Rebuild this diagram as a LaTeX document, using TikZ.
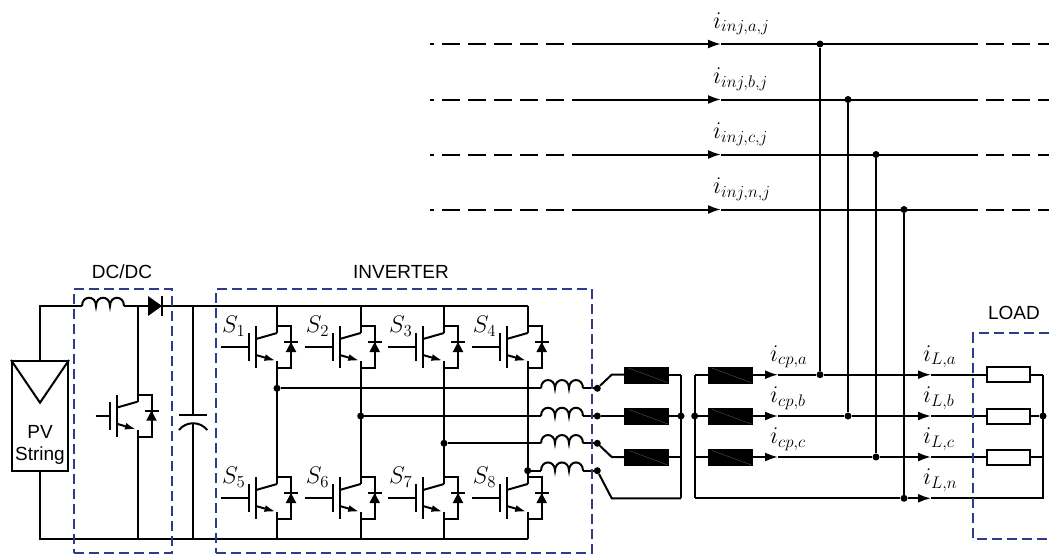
\RequirePackage{fix-cm}
\documentclass[tikz,border=0pt]{standalone}
\usepackage{fontspec}
\usepackage{tikz}
\usetikzlibrary{arrows.meta}
\newfontfamily\labelfont{Liberation Sans}
\definecolor{frameblue}{RGB}{46,58,140}
\tikzset{
	wire/.style={line width=2pt},
	dot/.style={circle,fill=black,inner sep=0pt,minimum size=7pt},
	dashwire/.style={wire,dash pattern=on 18pt off 8pt},
	flowtip/.style={wire,-{Latex[length=13pt,width=9pt]}},
	frame/.style={draw=frameblue,line width=2pt,dash pattern=on 10pt off 5pt},
	filterbox/.style={draw=black,fill=black,minimum width=44pt,minimum height=16pt,inner sep=0pt},
	loadres/.style={draw=black,line width=2pt,fill=white,minimum width=43pt,minimum height=15pt,inner sep=0pt},
	pvbox/.style={draw=black,line width=2pt,minimum width=56pt,minimum height=110pt,inner sep=0pt},
	mathlabel/.style={anchor=base west,inner sep=0pt,font=\fontsize{24}{28}\selectfont},
	textlabel/.style={inner sep=0pt,align=center,font=\labelfont\fontsize{19}{22}\selectfont},
	pics/igbt/.style={code={
		\coordinate (-c) at (0,-14);
		\coordinate (-e) at (0,14);
		\draw[wire] (#1,0) -- (-27.7,0);
		\draw[wire] (-27.7,-14) -- (-27.7,14);
		\draw[wire] (-21,-21) -- (-21,21);
		\draw[wire] (-21,-8) -- (0,-14);
		\draw[flowtip,-{Latex[length=11pt,width=7pt]}] (-21,8) -- (-1.5,13.6);
		\draw[wire] (-c) -- (0,-21) -- (14,-21) -- (14,21) -- (0,21) -- (-e);
		\fill (8.7,5) -- (19.3,5) -- (14,-5) -- cycle;
		\draw[wire] (7,-5) -- (21,-5);
	}},
	pics/coil/.style={code={
		\draw[wire] (0,0) .. controls (0,-11) and (14,-11) .. (14,0)
			.. controls (14,-11) and (28,-11) .. (28,0)
			.. controls (28,-11) and (42,-11) .. (42,0);
	}}
}
\begin{document}
\begin{tikzpicture}[x=1pt,y=-1pt]
	\useasboundingbox (0,0) rectangle (1049,554);
	\foreach \ph/\y/\x in {a/44/820,b/99.5/848,c/154.5/876,n/209.5/904}{
		\coordinate (gl\ph) at (430,\y);
		\coordinate (gs\ph) at (585,\y);
		\coordinate (gt\ph) at (721,\y);
		\coordinate (ge\ph) at (978,\y);
		\coordinate (gr\ph) at (1049,\y);
		\node[dot] (gj\ph) at (\x,\y) {};
		\draw[dashwire,dash phase=5pt] (gs\ph) -- (gl\ph);
		\draw[flowtip] (gs\ph) -- (gt\ph);
		\draw[wire] (gt\ph) -- (ge\ph);
		\draw[dashwire,dash phase=18pt] (ge\ph) -- (gr\ph);
		\node[mathlabel] (ig\ph) at (713,\y-16) {$i_{inj,\ph,j}$};
	}

	\node[pvbox] (pv) at (40,416) {};
	\coordinate (pvtip) at (40,402.7);
	\draw[wire] (pv.north west) -- (pvtip) -- (pv.north east);
	\node[textlabel] (pvtext) at (40,444.5) {PV\\String};
	\coordinate (nw) at (40,306);
	\coordinate (sw) at (40,539.3);
	\coordinate (coilin) at (82,306);
	\coordinate (coilout) at (124,306);
	\coordinate (dioin) at (148,306);
	\coordinate (dioout) at (162,306);
	\coordinate (railend) at (527.7,306);
	\coordinate (botend) at (527.7,539.3);
	\draw[wire] (pv.north) -- (nw) -- (coilin);
	\pic at (coilin) {coil};
	\draw[wire] (coilout) -- (dioin);
	\fill (148,296) -- (dioout) -- (148,316) -- cycle;
	\draw[wire] (162,296) -- (162,316);
	\draw[wire] (dioout) -- (railend);
	\draw[wire] (pv.south) -- (sw) -- (botend);

	\pic (sw0) at (137.5,415.7) {igbt=-42};
	\coordinate (swtop) at (137.5,306);
	\coordinate (swbot) at (137.5,539.3);
	\draw[wire] (swtop) -- (sw0-c);
	\draw[wire] (sw0-e) -- (swbot);

	\coordinate (captop) at (193.3,306);
	\coordinate (capup) at (193.3,415.3);
	\coordinate (caplow) at (193.3,423.5);
	\coordinate (capbot) at (193.3,539.3);
	\draw[wire] (captop) -- (capup);
	\draw[wire] (179,415.3) -- (207.3,415.3);
	\draw[wire] (179,430) .. controls (186,421) and (200,421) .. (207.3,430);
	\draw[wire] (caplow) -- (capbot);

	\foreach \a/\b/\x/\y in {1/5/277/388.3,2/6/360.7/416,3/7/444/443.3,4/8/527.7/470.7}{
		\pic (s\a) at (\x,347) {igbt=-56};
		\pic (s\b) at (\x,498) {igbt=-56};
		\node[mathlabel] (ls\a) at (\x-55,332.7) {$S_\a$};
		\node[mathlabel] (ls\b) at (\x-55,483.5) {$S_\b$};
		\coordinate (top\a) at (\x,306);
		\coordinate (bot\b) at (\x,539.3);
		\node[dot] (m\a) at (\x,\y) {};
		\coordinate (li\a) at (541,\y);
		\coordinate (lo\a) at (583,\y);
		\node[dot] (o\a) at (597.3,\y) {};
		\draw[wire] (top\a) -- (s\a-c);
		\draw[wire] (s\a-e) -- (s\b-c);
		\draw[wire] (s\b-e) -- (bot\b);
		\draw[wire] (m\a) -- (li\a);
		\pic at (li\a) {coil};
		\draw[wire] (lo\a) -- (o\a);
	}

	\coordinate (bus1up) at (681,374.7);
	\coordinate (bus1low) at (681,498.3);
	\coordinate (bus2up) at (694.7,374.7);
	\coordinate (bus2low) at (694.7,498.3);
	\draw[wire] (bus1up) -- (bus1low);
	\draw[wire] (bus2up) -- (bus2low);
	\node[dot] (bus1) at (681,416) {};
	\node[dot] (bus2) at (694.7,416) {};
	\foreach \ph/\y/\n in {a/374.7/1,b/416/2,c/457/3}{
		\node[filterbox] (fa\ph) at (646.3,\y) {};
		\node[filterbox] (fb\ph) at (729.7,\y) {};
		\draw[gray,very thin,shorten <=5pt,shorten >=1pt] (fa\ph.north west) -- (fa\ph.south east);
		\draw[gray,very thin,shorten <=5pt,shorten >=1pt] (fb\ph.north west) -- (fb\ph.south east);
		\coordinate (k\ph) at (611.7,\y);
		\draw[wire] (o\n) -- (k\ph) -- (fa\ph);
		\draw[wire] (fa\ph) -- (681,\y);
		\draw[wire] (694.7,\y) -- (fb\ph);
		\node[loadres] (r\ph) at (1008.3,\y) {};
	}
	\coordinate (kn) at (611.7,498.3);
	\draw[wire] (o4) -- (kn) -- (bus1low);

	\foreach \ph/\y/\x/\src in {a/374.7/820/fba,b/416/848/fbb,c/457/876/fbc}{
		\node[dot] (cj\ph) at (\x,\y) {};
		\coordinate (ct\ph) at (778,\y);
		\coordinate (lt\ph) at (931,\y);
		\draw[flowtip] (\src) -- (ct\ph);
		\draw[wire] (ct\ph) -- (cj\ph);
		\draw[wire] (gj\ph) -- (cj\ph);
		\draw[flowtip] (cj\ph) -- (lt\ph);
		\draw[wire] (lt\ph) -- (r\ph);
		\node[mathlabel] (ic\ph) at (770,\y-13.5) {$i_{cp,\ph}$};
		\node[mathlabel] (il\ph) at (923,\y-13.5) {$i_{L,\ph}$};
	}
	\node[dot] (cjn) at (904,498.3) {};
	\coordinate (ltn) at (931,498.3);
	\coordinate (lse) at (1043,498.3);
	\coordinate (lne) at (1043,374.7);
	\draw[wire] (bus2low) -- (cjn);
	\draw[wire] (gjn) -- (cjn);
	\draw[flowtip] (cjn) -- (ltn);
	\draw[wire] (ltn) -- (lse) -- (lne);
	\node[mathlabel] (iln) at (923,484.8) {$i_{L,n}$};
	\draw[wire] (ra) -- (lne);
	\node[dot] (lj) at (1043,416) {};
	\draw[wire] (rb) -- (lj);
	\draw[wire] (rc) -- (1043,457);

	\node[frame,minimum width=98pt,minimum height=264pt] (dcdc) at (123,421) {};
	\node[frame,minimum width=376pt,minimum height=264pt] (inv) at (404,421) {};
	\draw[frame] (1049,333.3) -- (973.3,333.3) -- (973.3,539.3) -- (1049,539.3);
	\node[textlabel] (dclabel) at (122,272) {DC/DC};
	\node[textlabel] (invlabel) at (401,272) {INVERTER};
	\node[textlabel] (loadlabel) at (1014,313) {LOAD};
\end{tikzpicture}
\end{document}
